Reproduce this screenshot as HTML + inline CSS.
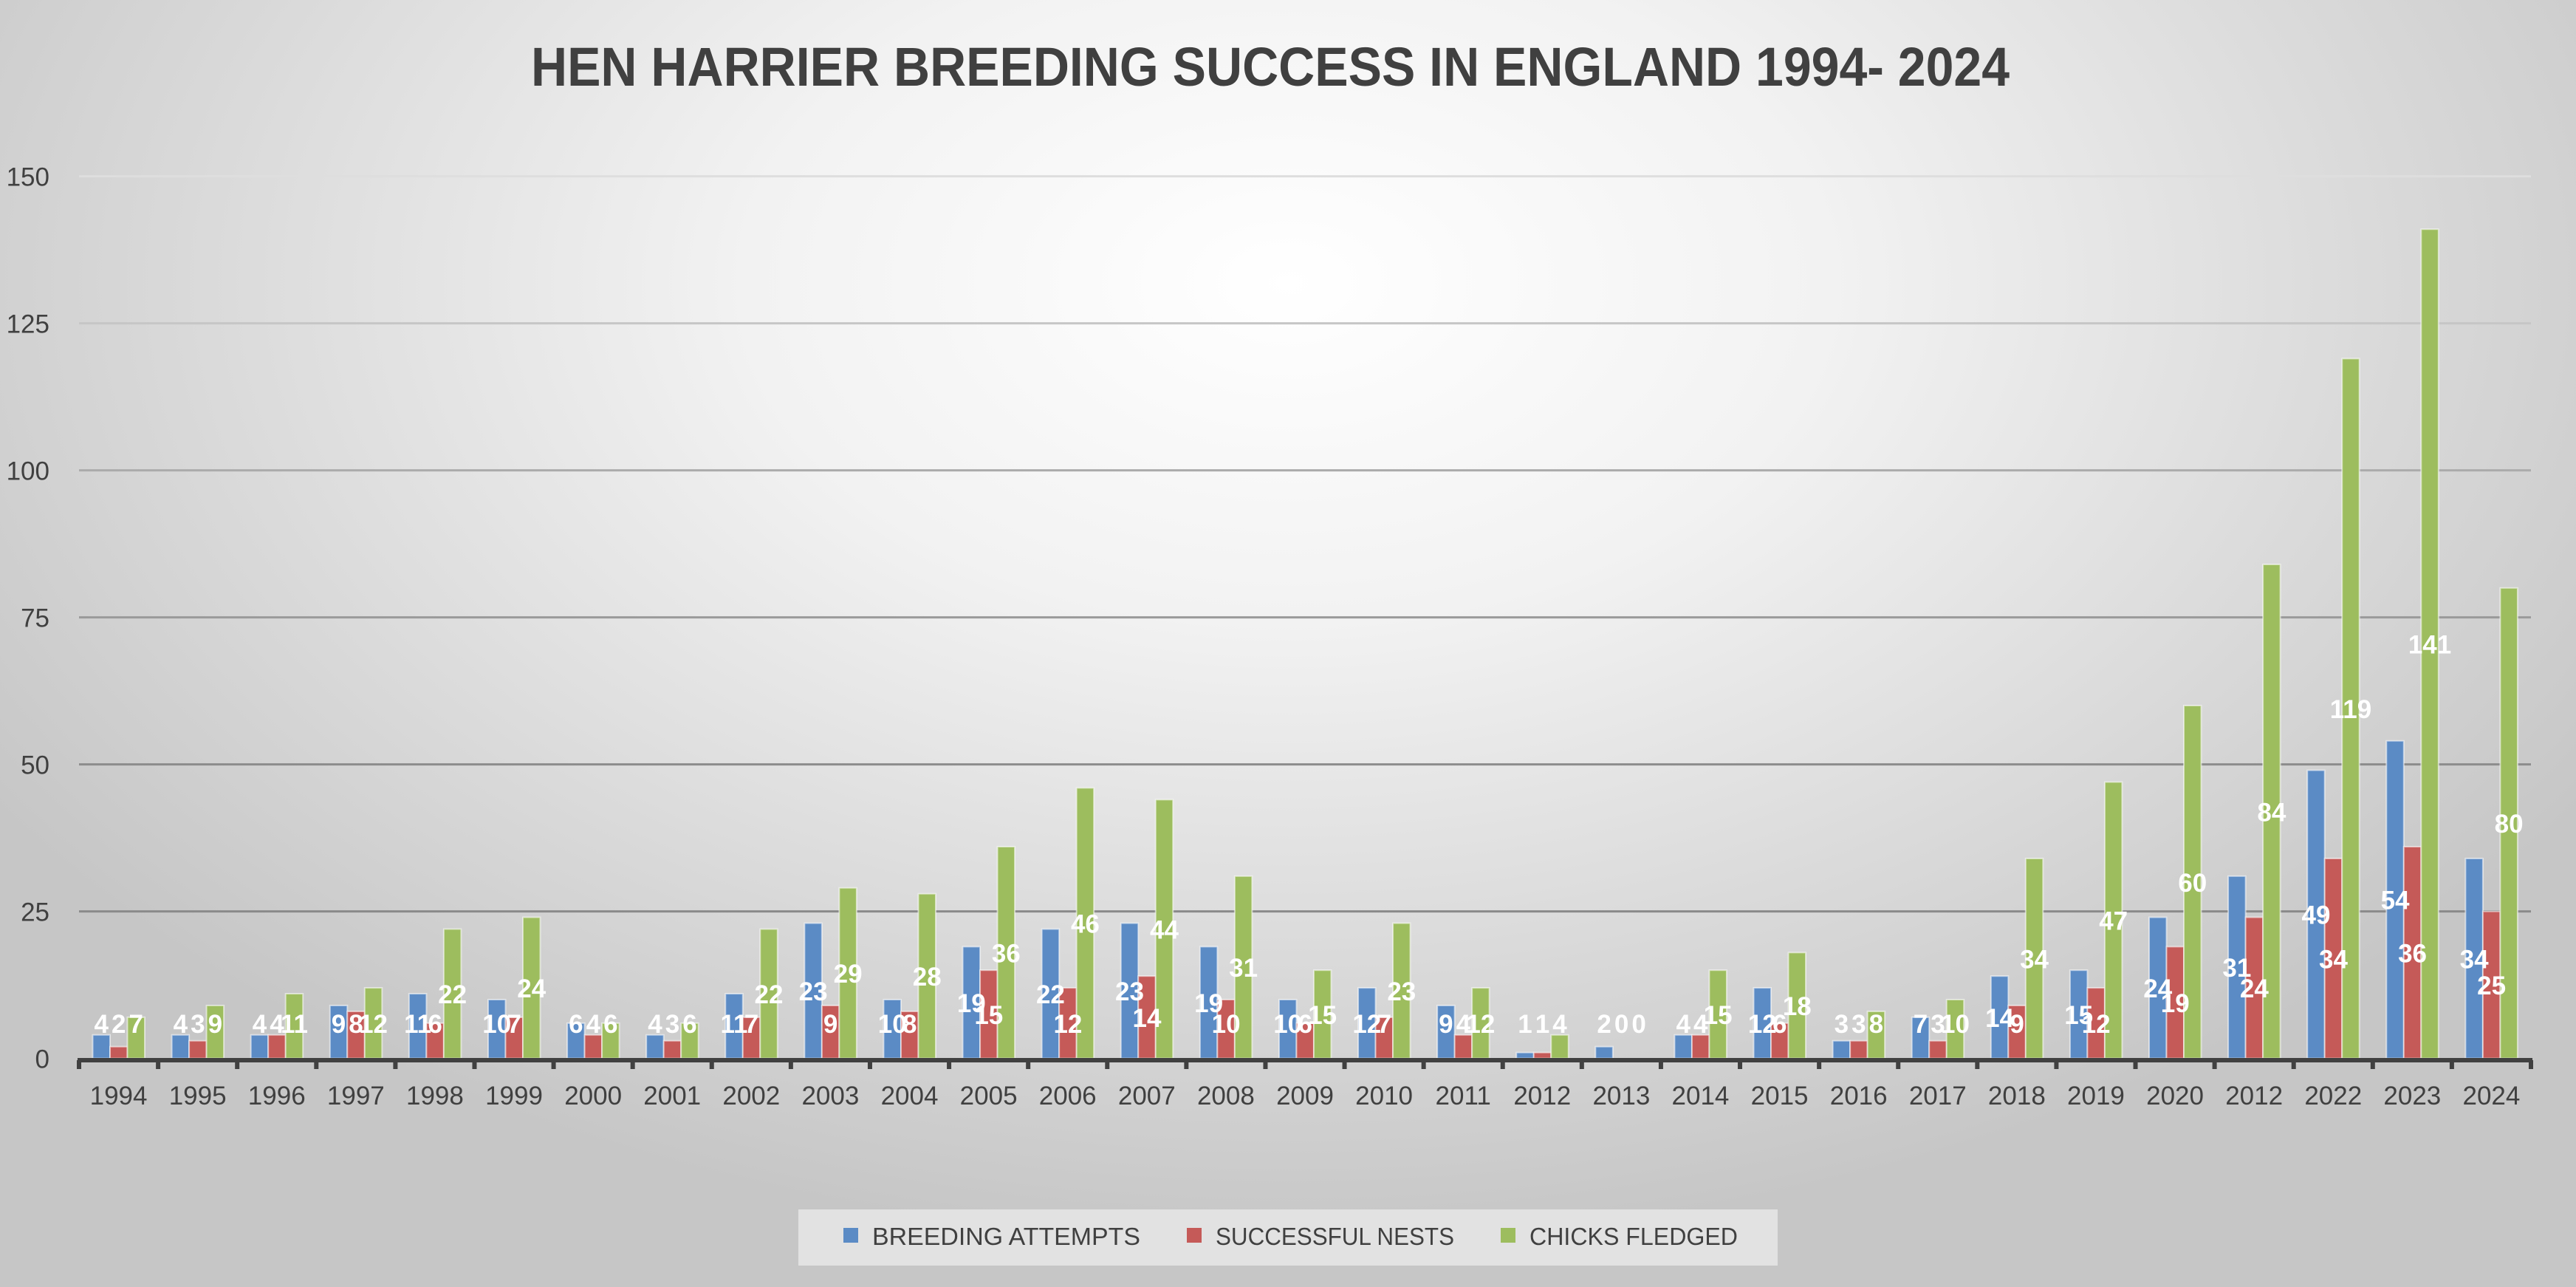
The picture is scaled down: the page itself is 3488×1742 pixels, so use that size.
<!DOCTYPE html>
<html><head><meta charset="utf-8"><style>
html,body{margin:0;padding:0;}
body{width:3488px;height:1742px;overflow:hidden;background:radial-gradient(ellipse 60% 75% at 50% 22%,#ffffff 0%,#f2f2f2 35%,#dadada 70%,#c6c6c6 100%);}
svg{position:absolute;left:0;top:0;}
text{font-family:"Liberation Sans",Arial,sans-serif;}
</style></head><body>
<svg id="c" width="3488" height="1742" viewBox="0 0 3488 1742" xmlns="http://www.w3.org/2000/svg"></svg>
<script>
var years=["1994","1995","1996","1997","1998","1999","2000","2001","2002","2003","2004","2005","2006","2007","2008","2009","2010","2011","2012","2013","2014","2015","2016","2017","2018","2019","2020","2012","2022","2023","2024"];
var d=[[4,2,7],[4,3,9],[4,4,11],[9,8,12],[11,6,22],[10,7,24],[6,4,6],[4,3,6],[11,7,22],[23,9,29],[10,8,28],[19,15,36],[22,12,46],[23,14,44],[19,10,31],[10,6,15],[12,7,23],[9,4,12],[1,1,4],[2,0,0],[4,4,15],[12,6,18],[3,3,8],[7,3,10],[14,9,34],[15,12,47],[24,19,60],[31,24,84],[49,34,119],[54,36,141],[34,25,80]];
var cols=["#5b8bc5","#c55a58","#9dbd5e"];
var L=107,R=3427,cw=(R-L)/31,y0=1432.6,k=7.96;
function Y(v){return y0-v*k;}
var s='';
s+='<text x="1720" y="116" font-size="74" font-weight="bold" fill="#404040" text-anchor="middle" textLength="2002" lengthAdjust="spacingAndGlyphs">HEN HARRIER BREEDING SUCCESS IN ENGLAND 1994- 2024</text>';
var gc={25:"#8a8a8a",50:"#8c8c8c",75:"#9a9a9a",100:"#ababab",125:"#c6c6c6",150:"#dedede"};
for(var v=0;v<=150;v+=25){
 if(v>0) s+='<line x1="'+L+'" x2="'+R+'" y1="'+Y(v)+'" y2="'+Y(v)+'" stroke="'+gc[v]+'" stroke-width="3"/>';
 s+='<text x="67" y="'+(Y(v)+13)+'" font-size="35" fill="#404040" text-anchor="end">'+v+'</text>';
}
var bw=23.5;
for(var i=0;i<31;i++){
 for(var j=0;j<3;j++){
  var x=L+i*cw+18.5+j*bw, val=d[i][j];
  if(val>0) s+='<rect x="'+x+'" y="'+Y(val)+'" width="'+bw+'" height="'+(val*k)+'" fill="'+cols[j]+'" stroke="rgba(255,255,255,0.55)" stroke-width="2"/>';
 }
}
for(var i=0;i<31;i++){
 for(var j=0;j<3;j++){
  var x=L+i*cw+18.5+j*bw+bw/2, val=d[i][j];
  var c=Math.max(val/2,6);
  s+='<text x="'+x+'" y="'+(Y(c)+13)+'" font-size="35" font-weight="bold" fill="#ffffff" text-anchor="middle">'+val+'</text>';
 }
 s+='<text x="'+(L+i*cw+cw/2)+'" y="1495" font-size="35" fill="#404040" text-anchor="middle">'+years[i]+'</text>';
}
s+='<line x1="'+(L-2)+'" x2="'+(R+2)+'" y1="1435" y2="1435" stroke="#404040" stroke-width="6"/>';
for(var i=0;i<=31;i++){var tx=L+i*cw; s+='<line x1="'+tx+'" x2="'+tx+'" y1="1435" y2="1447" stroke="#404040" stroke-width="6"/>';}
s+='<rect x="1081" y="1637" width="1326" height="76" fill="#e6e6e6" opacity="0.85"/>';
var lg=[[1142,1181,"BREEDING ATTEMPTS",363],[1607,1646,"SUCCESSFUL NESTS",323],[2032,2071,"CHICKS FLEDGED",282]];
for(var j=0;j<3;j++){
 s+='<rect x="'+lg[j][0]+'" y="1662" width="20" height="20" fill="'+cols[j]+'"/>';
 s+='<text x="'+lg[j][1]+'" y="1685" font-size="33" fill="#404040" textLength="'+lg[j][3]+'" lengthAdjust="spacingAndGlyphs">'+lg[j][2]+'</text>';
}
document.getElementById('c').innerHTML=s;
</script>
</body></html>
